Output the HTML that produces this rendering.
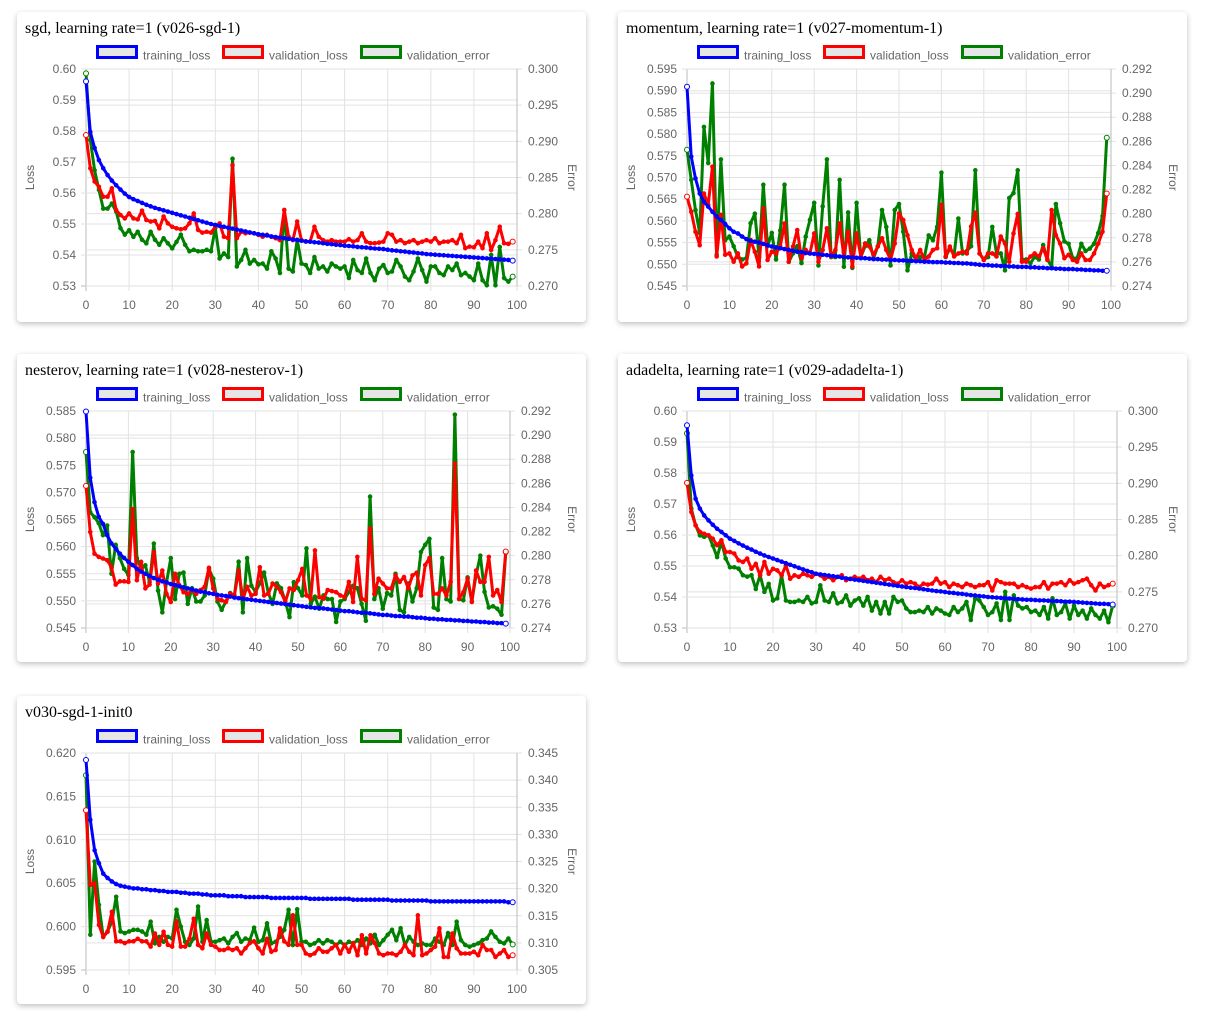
<!DOCTYPE html>
<html><head><meta charset="utf-8"><style>
html,body{margin:0;padding:0;background:#fff;width:1211px;height:1032px;overflow:hidden}
.card{position:absolute;background:#fff;border-radius:4px;box-shadow:0 2px 6px rgba(0,0,0,0.25)}
svg{position:absolute;left:0;top:0}
</style></head><body>
<div class="card" style="left:17px;top:12px;width:569px;height:310px"></div>
<div class="card" style="left:618px;top:12px;width:569px;height:310px"></div>
<div class="card" style="left:17px;top:354px;width:569px;height:308px"></div>
<div class="card" style="left:618px;top:354px;width:569px;height:308px"></div>
<div class="card" style="left:17px;top:696px;width:569px;height:308px"></div>
<svg id="svg" width="1211" height="1032" xmlns="http://www.w3.org/2000/svg"></svg>
<script>
const sgdTrain=[0.5960,0.5797,0.5745,0.5706,0.5680,0.5658,0.5640,0.5625,0.5611,0.5598,0.5587,0.5580,0.5574,0.5568,0.5562,0.5557,0.5552,0.5548,0.5544,0.5540,0.5536,0.5532,0.5528,0.5524,0.5520,0.5516,0.5512,0.5508,0.5504,0.5500,0.5497,0.5494,0.5491,0.5488,0.5485,0.5482,0.5479,0.5476,0.5473,0.5470,0.5467,0.5465,0.5463,0.5460,0.5458,0.5456,0.5454,0.5452,0.5450,0.5448,0.5446,0.5444,0.5443,0.5441,0.5440,0.5438,0.5436,0.5435,0.5433,0.5432,0.5430,0.5429,0.5428,0.5426,0.5425,0.5424,0.5422,0.5421,0.5420,0.5419,0.5417,0.5415,0.5414,0.5412,0.5411,0.5409,0.5408,0.5406,0.5405,0.5403,0.5402,0.5401,0.5400,0.5399,0.5398,0.5397,0.5396,0.5395,0.5394,0.5393,0.5392,0.5391,0.5390,0.5389,0.5388,0.5387,0.5386,0.5385,0.5384,0.5382];
const sgdVal=[0.5787,0.5680,0.5637,0.5620,0.5588,0.5588,0.5615,0.5545,0.5529,0.5518,0.5534,0.5518,0.5515,0.5543,0.5513,0.5508,0.5510,0.5486,0.5524,0.5502,0.5491,0.5486,0.5483,0.5486,0.5502,0.5534,0.5481,0.5472,0.5475,0.5472,0.5491,0.5502,0.5459,0.5454,0.5690,0.5454,0.5475,0.5470,0.5472,0.5470,0.5465,0.5459,0.5465,0.5459,0.5454,0.5448,0.5545,0.5459,0.5448,0.5508,0.5448,0.5443,0.5443,0.5491,0.5459,0.5448,0.5443,0.5448,0.5443,0.5443,0.5443,0.5451,0.5443,0.5448,0.5470,0.5443,0.5438,0.5438,0.5440,0.5443,0.5470,0.5465,0.5443,0.5448,0.5438,0.5443,0.5448,0.5438,0.5443,0.5448,0.5443,0.5454,0.5438,0.5443,0.5443,0.5448,0.5438,0.5465,0.5422,0.5427,0.5425,0.5443,0.5422,0.5470,0.5416,0.5448,0.5491,0.5438,0.5436,0.5443];
const sgdErr=[0.2994,0.2902,0.2860,0.2833,0.2807,0.2807,0.2814,0.2803,0.2780,0.2771,0.2777,0.2768,0.2775,0.2764,0.2759,0.2775,0.2764,0.2757,0.2766,0.2759,0.2752,0.2761,0.2771,0.2757,0.2748,0.2750,0.2748,0.2748,0.2750,0.2748,0.2780,0.2738,0.2745,0.2740,0.2876,0.2727,0.2736,0.2750,0.2731,0.2736,0.2730,0.2731,0.2724,0.2748,0.2738,0.2718,0.2805,0.2724,0.2720,0.2764,0.2731,0.2729,0.2718,0.2740,0.2724,0.2727,0.2720,0.2731,0.2727,0.2724,0.2727,0.2711,0.2736,0.2722,0.2718,0.2738,0.2718,0.2708,0.2724,0.2729,0.2718,0.2720,0.2736,0.2727,0.2713,0.2708,0.2720,0.2738,0.2722,0.2706,0.2727,0.2727,0.2718,0.2715,0.2727,0.2722,0.2731,0.2715,0.2718,0.2713,0.2708,0.2731,0.2708,0.2701,0.2743,0.2701,0.2754,0.2711,0.2706,0.2713];
const momTrain=[0.5909,0.5748,0.5698,0.5663,0.5644,0.5633,0.5621,0.5610,0.5602,0.5593,0.5583,0.5575,0.5571,0.5564,0.5558,0.5554,0.5552,0.5550,0.5547,0.5544,0.5541,0.5539,0.5537,0.5535,0.5533,0.5531,0.5529,0.5528,0.5526,0.5525,0.5524,0.5523,0.5522,0.5521,0.5520,0.5519,0.5518,0.5517,0.5516,0.5516,0.5515,0.5514,0.5514,0.5513,0.5512,0.5512,0.5511,0.5511,0.5510,0.5510,0.5509,0.5509,0.5508,0.5508,0.5507,0.5507,0.5506,0.5506,0.5505,0.5505,0.5505,0.5504,0.5504,0.5503,0.5503,0.5502,0.5502,0.5501,0.5500,0.5499,0.5498,0.5498,0.5497,0.5497,0.5496,0.5496,0.5495,0.5495,0.5494,0.5494,0.5494,0.5493,0.5493,0.5492,0.5492,0.5491,0.5491,0.5490,0.5490,0.5489,0.5489,0.5489,0.5488,0.5488,0.5487,0.5487,0.5486,0.5486,0.5485,0.5485];
const momVal=[0.5656,0.5621,0.5575,0.5544,0.5663,0.5637,0.5725,0.5518,0.5614,0.5522,0.5525,0.5506,0.5525,0.5495,0.5502,0.5556,0.5529,0.5495,0.5629,0.5510,0.5529,0.5525,0.5541,0.5594,0.5506,0.5541,0.5579,0.5514,0.5533,0.5525,0.5571,0.5506,0.5533,0.5583,0.5518,0.5533,0.5594,0.5518,0.5575,0.5495,0.5571,0.5518,0.5548,0.5541,0.5522,0.5541,0.5560,0.5533,0.5510,0.5548,0.5617,0.5602,0.5567,0.5533,0.5514,0.5533,0.5510,0.5518,0.5533,0.5537,0.5637,0.5518,0.5541,0.5518,0.5525,0.5529,0.5525,0.5587,0.5619,0.5525,0.5510,0.5525,0.5525,0.5518,0.5564,0.5548,0.5506,0.5571,0.5616,0.5506,0.5506,0.5518,0.5525,0.5518,0.5537,0.5510,0.5625,0.5567,0.5548,0.5514,0.5522,0.5510,0.5506,0.5525,0.5510,0.5510,0.5525,0.5548,0.5575,0.5663];
const momErr=[0.2853,0.2828,0.2803,0.2784,0.2872,0.2842,0.2908,0.2766,0.2845,0.2778,0.2781,0.2773,0.2764,0.2762,0.2763,0.2792,0.2800,0.2764,0.2824,0.2773,0.2784,0.2762,0.2786,0.2824,0.2760,0.2767,0.2773,0.2759,0.2781,0.2795,0.2809,0.2757,0.2806,0.2845,0.2764,0.2764,0.2828,0.2756,0.2801,0.2755,0.2809,0.2764,0.2773,0.2778,0.2763,0.2773,0.2803,0.2789,0.2757,0.2803,0.2808,0.2785,0.2753,0.2767,0.2762,0.2764,0.2764,0.2782,0.2778,0.2789,0.2834,0.2764,0.2771,0.2766,0.2796,0.2767,0.2769,0.2773,0.2836,0.2767,0.2762,0.2764,0.2789,0.2767,0.2767,0.2753,0.2813,0.2817,0.2836,0.2762,0.2762,0.2759,0.2764,0.2762,0.2774,0.2762,0.2756,0.2808,0.2792,0.2777,0.2775,0.2763,0.2763,0.2775,0.2769,0.2771,0.2775,0.2784,0.2798,0.2863];
const nesTrain=[0.5849,0.5727,0.5682,0.5655,0.5642,0.5621,0.5606,0.5596,0.5587,0.5579,0.5572,0.5566,0.5559,0.5554,0.5550,0.5546,0.5542,0.5539,0.5536,0.5534,0.5531,0.5529,0.5527,0.5525,0.5523,0.5521,0.5519,0.5517,0.5516,0.5514,0.5513,0.5511,0.5510,0.5509,0.5508,0.5506,0.5505,0.5504,0.5503,0.5502,0.5501,0.5500,0.5499,0.5498,0.5497,0.5496,0.5495,0.5494,0.5493,0.5492,0.5491,0.5490,0.5489,0.5488,0.5487,0.5487,0.5486,0.5485,0.5484,0.5483,0.5482,0.5481,0.5481,0.5480,0.5479,0.5478,0.5478,0.5477,0.5476,0.5475,0.5474,0.5474,0.5473,0.5472,0.5472,0.5471,0.5471,0.5470,0.5469,0.5469,0.5468,0.5467,0.5467,0.5466,0.5466,0.5465,0.5465,0.5464,0.5464,0.5463,0.5463,0.5462,0.5462,0.5461,0.5461,0.5460,0.5460,0.5459,0.5459,0.5458];
const nesVal=[0.5712,0.5627,0.5587,0.5581,0.5578,0.5575,0.5562,0.5530,0.5536,0.5536,0.5535,0.5669,0.5538,0.5572,0.5523,0.5530,0.5590,0.5532,0.5556,0.5513,0.5498,0.5550,0.5529,0.5516,0.5513,0.5520,0.5513,0.5520,0.5526,0.5561,0.5523,0.5504,0.5501,0.5498,0.5513,0.5510,0.5556,0.5504,0.5526,0.5510,0.5513,0.5562,0.5510,0.5513,0.5532,0.5526,0.5516,0.5498,0.5523,0.5520,0.5538,0.5559,0.5510,0.5504,0.5593,0.5507,0.5504,0.5520,0.5518,0.5516,0.5510,0.5507,0.5535,0.5498,0.5581,0.5504,0.5501,0.5633,0.5513,0.5541,0.5532,0.5523,0.5523,0.5547,0.5535,0.5544,0.5523,0.5547,0.5552,0.5510,0.5566,0.5579,0.5513,0.5513,0.5523,0.5510,0.5535,0.5753,0.5504,0.5516,0.5541,0.5498,0.5556,0.5535,0.5535,0.5581,0.5510,0.5520,0.5498,0.5591];
const nesErr=[0.2886,0.2836,0.2832,0.2827,0.2817,0.2825,0.2785,0.2809,0.2798,0.2789,0.2784,0.2886,0.2798,0.2789,0.2792,0.2778,0.2810,0.2771,0.2753,0.2778,0.2798,0.2764,0.2785,0.2786,0.2760,0.2773,0.2762,0.2762,0.2767,0.2789,0.2781,0.2762,0.2755,0.2762,0.2769,0.2767,0.2795,0.2753,0.2798,0.2775,0.2770,0.2777,0.2786,0.2769,0.2760,0.2777,0.2773,0.2762,0.2749,0.2778,0.2773,0.2767,0.2806,0.2760,0.2766,0.2756,0.2767,0.2764,0.2764,0.2745,0.2762,0.2764,0.2770,0.2775,0.2773,0.2760,0.2746,0.2849,0.2764,0.2773,0.2756,0.2769,0.2767,0.2785,0.2755,0.2753,0.2777,0.2762,0.2773,0.2803,0.2809,0.2814,0.2757,0.2755,0.2798,0.2764,0.2762,0.2917,0.2764,0.2763,0.2782,0.2762,0.2784,0.2800,0.2770,0.2757,0.2758,0.2756,0.2751,0.2803];
const adaTrain=[0.5954,0.5792,0.5717,0.5685,0.5663,0.5647,0.5633,0.5620,0.5610,0.5599,0.5588,0.5581,0.5573,0.5566,0.5559,0.5553,0.5546,0.5540,0.5534,0.5529,0.5524,0.5519,0.5514,0.5509,0.5504,0.5499,0.5494,0.5489,0.5484,0.5480,0.5475,0.5473,0.5471,0.5469,0.5467,0.5465,0.5462,0.5460,0.5458,0.5456,0.5454,0.5452,0.5450,0.5448,0.5446,0.5444,0.5442,0.5440,0.5438,0.5436,0.5434,0.5432,0.5430,0.5429,0.5427,0.5425,0.5423,0.5421,0.5419,0.5418,0.5416,0.5414,0.5413,0.5411,0.5410,0.5408,0.5406,0.5405,0.5403,0.5402,0.5400,0.5399,0.5398,0.5397,0.5396,0.5395,0.5394,0.5393,0.5392,0.5391,0.5391,0.5390,0.5389,0.5389,0.5388,0.5387,0.5387,0.5386,0.5385,0.5385,0.5384,0.5383,0.5382,0.5381,0.5380,0.5379,0.5378,0.5378,0.5377,0.5376];
const adaVal=[0.5768,0.5674,0.5631,0.5610,0.5604,0.5599,0.5588,0.5567,0.5583,0.5545,0.5545,0.5540,0.5518,0.5513,0.5524,0.5491,0.5507,0.5470,0.5513,0.5475,0.5491,0.5486,0.5470,0.5502,0.5459,0.5470,0.5465,0.5475,0.5470,0.5465,0.5475,0.5470,0.5459,0.5465,0.5454,0.5465,0.5470,0.5454,0.5459,0.5465,0.5459,0.5465,0.5454,0.5459,0.5448,0.5465,0.5454,0.5459,0.5448,0.5443,0.5454,0.5443,0.5448,0.5443,0.5432,0.5443,0.5440,0.5443,0.5459,0.5443,0.5448,0.5432,0.5443,0.5438,0.5432,0.5443,0.5438,0.5432,0.5438,0.5438,0.5448,0.5421,0.5454,0.5448,0.5443,0.5443,0.5443,0.5432,0.5438,0.5432,0.5427,0.5432,0.5432,0.5448,0.5427,0.5443,0.5443,0.5448,0.5438,0.5454,0.5443,0.5448,0.5454,0.5459,0.5438,0.5421,0.5443,0.5432,0.5438,0.5443];
const adaErr=[0.2969,0.2865,0.2842,0.2828,0.2826,0.2828,0.2814,0.2798,0.2819,0.2796,0.2784,0.2784,0.2782,0.2773,0.2771,0.2773,0.2754,0.2773,0.2750,0.2761,0.2738,0.2741,0.2773,0.2738,0.2736,0.2736,0.2738,0.2736,0.2743,0.2734,0.2736,0.2759,0.2738,0.2736,0.2748,0.2734,0.2736,0.2745,0.2731,0.2738,0.2741,0.2731,0.2743,0.2724,0.2736,0.2720,0.2736,0.2720,0.2743,0.2736,0.2738,0.2727,0.2722,0.2722,0.2724,0.2722,0.2729,0.2720,0.2727,0.2724,0.2720,0.2718,0.2729,0.2722,0.2727,0.2736,0.2711,0.2741,0.2738,0.2729,0.2718,0.2722,0.2734,0.2711,0.2750,0.2711,0.2745,0.2731,0.2727,0.2729,0.2722,0.2724,0.2718,0.2729,0.2713,0.2741,0.2718,0.2722,0.2734,0.2713,0.2731,0.2718,0.2724,0.2713,0.2727,0.2718,0.2713,0.2724,0.2708,0.2731];
const initTrain=[0.6192,0.6123,0.6088,0.6073,0.6061,0.6056,0.6052,0.6049,0.6047,0.6046,0.6045,0.6044,0.6044,0.6043,0.6043,0.6042,0.6042,0.6041,0.6041,0.6040,0.6040,0.6040,0.6039,0.6039,0.6038,0.6038,0.6038,0.6037,0.6037,0.6036,0.6036,0.6036,0.6036,0.6035,0.6035,0.6035,0.6035,0.6034,0.6034,0.6034,0.6034,0.6034,0.6034,0.6033,0.6033,0.6033,0.6033,0.6033,0.6033,0.6033,0.6033,0.6033,0.6032,0.6032,0.6032,0.6032,0.6032,0.6032,0.6032,0.6032,0.6032,0.6032,0.6031,0.6031,0.6031,0.6031,0.6031,0.6031,0.6031,0.6031,0.6031,0.6030,0.6030,0.6030,0.6030,0.6030,0.6030,0.6030,0.6030,0.6030,0.6029,0.6029,0.6029,0.6029,0.6029,0.6029,0.6029,0.6029,0.6029,0.6029,0.6029,0.6029,0.6029,0.6029,0.6029,0.6029,0.6029,0.6029,0.6028,0.6028];
const initVal=[0.6134,0.6048,0.6050,0.6002,0.5988,0.5994,0.6017,0.5983,0.5983,0.5981,0.5983,0.5983,0.5986,0.5983,0.5983,0.5977,0.5992,0.5979,0.5994,0.5979,0.5977,0.6006,0.5977,0.5977,0.5986,0.6009,0.5979,0.5975,0.5992,0.5979,0.5977,0.5973,0.5973,0.5975,0.5973,0.5975,0.5969,0.5975,0.5981,0.5983,0.5975,0.5969,0.5986,0.5971,0.5973,0.5998,0.5983,0.5979,0.6013,0.5979,0.5979,0.5969,0.5967,0.5969,0.5975,0.5971,0.5971,0.5975,0.5979,0.5969,0.5979,0.5971,0.5981,0.5967,0.5990,0.5969,0.5990,0.5981,0.5969,0.5967,0.5969,0.5969,0.5967,0.5971,0.5979,0.5971,0.5967,0.6013,0.5967,0.5969,0.5973,0.5977,0.5998,0.5965,0.5965,0.5992,0.5975,0.5969,0.5969,0.5969,0.5971,0.5967,0.5979,0.5973,0.5973,0.5965,0.5969,0.5973,0.5965,0.5967];
const initErr=[0.3409,0.3115,0.3250,0.3170,0.3111,0.3121,0.3139,0.3185,0.3121,0.3118,0.3121,0.3124,0.3124,0.3121,0.3115,0.3139,0.3099,0.3111,0.3102,0.3111,0.3108,0.3161,0.3130,0.3102,0.3096,0.3108,0.3167,0.3102,0.3142,0.3102,0.3102,0.3105,0.3108,0.3099,0.3111,0.3118,0.3102,0.3108,0.3105,0.3128,0.3102,0.3105,0.3136,0.3099,0.3102,0.3111,0.3124,0.3161,0.3096,0.3162,0.3102,0.3102,0.3096,0.3099,0.3105,0.3099,0.3105,0.3102,0.3096,0.3102,0.3096,0.3102,0.3099,0.3105,0.3096,0.3108,0.3099,0.3115,0.3096,0.3105,0.3115,0.3124,0.3105,0.3127,0.3096,0.3111,0.3102,0.3096,0.3099,0.3096,0.3096,0.3108,0.3102,0.3096,0.3118,0.3096,0.3139,0.3105,0.3096,0.3093,0.3096,0.3099,0.3105,0.3108,0.3121,0.3111,0.3102,0.3099,0.3108,0.3097];
const xTicks=[0,10,20,30,40,50,60,70,80,90,100];
const titles=["sgd, learning rate=1 (v026-sgd-1)","momentum, learning rate=1 (v027-momentum-1)","nesterov, learning rate=1 (v028-nesterov-1)","adadelta, learning rate=1 (v029-adadelta-1)","v030-sgd-1-init0"];
const lossTicks1=[0.53,0.54,0.55,0.56,0.57,0.58,0.59,0.60];
const errTicks1=[0.270,0.275,0.280,0.285,0.290,0.295,0.300];
const lossTicks2=[0.545,0.550,0.555,0.560,0.565,0.570,0.575,0.580,0.585,0.590,0.595];
const errTicks2=[0.274,0.276,0.278,0.280,0.282,0.284,0.286,0.288,0.290,0.292];
const lossTicks3=[0.545,0.550,0.555,0.560,0.565,0.570,0.575,0.580,0.585];
const errTicks3=[0.274,0.276,0.278,0.280,0.282,0.284,0.286,0.288,0.290,0.292];
const lossTicks5=[0.595,0.600,0.605,0.610,0.615,0.620];
const errTicks5=[0.305,0.310,0.315,0.320,0.325,0.330,0.335,0.340,0.345];

const charts=[
 {id:'sgd',ox:0,oy:0,L:86,R:517,T:69,B:286,lt:lossTicks1,ld:2,et:errTicks1,tr:sgdTrain,va:sgdVal,er:sgdErr},
 {id:'momentum',ox:601,oy:0,L:687,R:1111,T:69,B:286,lt:lossTicks2,ld:3,et:errTicks2,tr:momTrain,va:momVal,er:momErr},
 {id:'nesterov',ox:0,oy:342,L:86,R:510,T:411,B:628,lt:lossTicks3,ld:3,et:errTicks3,tr:nesTrain,va:nesVal,er:nesErr},
 {id:'adadelta',ox:601,oy:342,L:687,R:1117,T:411,B:628,lt:lossTicks1,ld:2,et:errTicks1,tr:adaTrain,va:adaVal,er:adaErr},
 {id:'init0',ox:0,oy:684,L:86,R:517,T:753,B:970,lt:lossTicks5,ld:3,et:errTicks5,tr:initTrain,va:initVal,er:initErr}
];
const NS='http://www.w3.org/2000/svg';
const svg=document.getElementById('svg');
function mk(tag,attrs,parent){const e=document.createElementNS(NS,tag);for(const k in attrs)e.setAttribute(k,attrs[k]);(parent||svg).appendChild(e);return e;}
const FONT='"Liberation Sans", "DejaVu Sans", sans-serif';
charts.forEach((c,ci)=>{
  const g=mk('g',{});
  
  
  const x=v=>c.L+(v/100)*(c.R-c.L);
  const lmin=c.lt[0],lmax=c.lt[c.lt.length-1],emin=c.et[0],emax=c.et[c.et.length-1];
  const yl=v=>c.B-(v-lmin)/(lmax-lmin)*(c.B-c.T);
  const ye=v=>c.B-(v-emin)/(emax-emin)*(c.B-c.T);
  // title
  const t=mk('text',{x:25+c.ox,y:33+c.oy,'font-family':'"Liberation Serif", serif','font-size':'16',fill:'#000'},g);
  t.textContent=titles[ci];
  
  
  // legend
  const leg=[['training_loss','#0000ff',96],['validation_loss','#ff0000',222],['validation_error','#008000',360]];
  leg.forEach(l=>{
    const r=mk('rect',{x:l[2]+c.ox+1.5,y:48.5+c.oy-2,width:39,height:11,fill:'#e6e6e6',stroke:l[1],'stroke-width':3},g);
    
    
    const lt=mk('text',{x:l[2]+47+c.ox,y:59.5+c.oy,'font-family':FONT,'font-size':'12',fill:'#666'},g);
    lt.textContent=l[0];
    
    
  });
  // grid
  xTicks.forEach(v=>{
    const ln=mk('line',{x1:x(v),x2:x(v),y1:c.T,y2:c.B+5,stroke:v===0?'#bbb':'#e2e2e2','stroke-width':1},g);
    
    
    const tx=mk('text',{x:x(v),y:c.B+23,'text-anchor':'middle','font-family':FONT,'font-size':'12',fill:'#666'},g);
    tx.textContent=v;
    
    
  });
  c.lt.forEach(v=>{
    const yy=yl(v);
    const ln=mk('line',{x1:c.L-5,x2:c.R,y1:yy,y2:yy,stroke:v===lmin?'#bbb':'#e2e2e2','stroke-width':1},g);
    
    
    const tx=mk('text',{x:c.L-10,y:yy+4,'text-anchor':'end','font-family':FONT,'font-size':'12',fill:'#666'},g);
    tx.textContent=v.toFixed(c.ld);
    
    
  });
  c.et.forEach(v=>{
    const yy=ye(v);
    const ln=mk('line',{x1:c.L,x2:c.R+5,y1:yy,y2:yy,stroke:'#e2e2e2','stroke-width':1},g);
    
    
    const tx=mk('text',{x:c.R+11,y:yy+4,'font-family':FONT,'font-size':'12',fill:'#666'},g);
    tx.textContent=v.toFixed(3);
    
    
  });
  const ax=mk('line',{x1:c.R,x2:c.R,y1:c.T,y2:c.B,stroke:'#bbb','stroke-width':1},g);
  
  
  const cy=(c.T+c.B)/2;
  const la=mk('text',{x:0,y:0,transform:`translate(${34+c.ox},${cy}) rotate(-90)`,'text-anchor':'middle','font-family':FONT,'font-size':'12',fill:'#666'},g);
  la.textContent='Loss';
  
  
  const ea=mk('text',{x:0,y:0,transform:`translate(${568+c.ox},${cy}) rotate(90)`,'text-anchor':'middle','font-family':FONT,'font-size':'12',fill:'#666'},g);
  ea.textContent='Error';
  
  
  // series
  const series=[[c.er,ye,'#008000','validation-error-line'],[c.va,yl,'#ff0000','validation-loss-line'],[c.tr,yl,'#0000ff','training-loss-line']];
  series.forEach(s=>{
    const d=s[0].map((v,i)=>(i?'L':'M')+x(i).toFixed(2)+','+s[1](v).toFixed(2)).join(' ');
    const p=mk('path',{d:d,fill:'none',stroke:s[2],'stroke-width':3,'stroke-linejoin':'round'},g);
    
    
    s[0].forEach((v,i)=>{
      const end=(i===0||i===s[0].length-1);
      const pt=mk('circle',{cx:x(i),cy:s[1](v),r:end?2.5:1.8,fill:end?'#fff':s[2],stroke:s[2],'stroke-width':1},g);
      
      
    });
  });
});
</script>
</body></html>
